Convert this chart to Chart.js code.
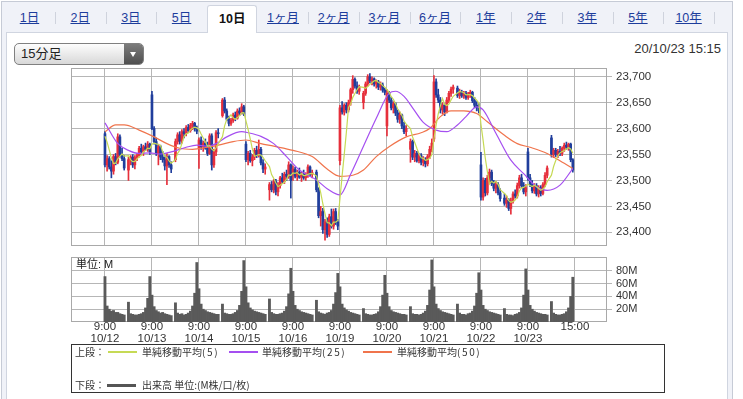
<!DOCTYPE html>
<html>
<head>
<meta charset="utf-8">
<script src="https://cdn.jsdelivr.net/npm/chart.js@4.4.0/dist/chart.umd.min.js"></script>
<style>
  body { margin: 0; width: 743px; height: 399px; overflow: hidden; background: #fff; position: relative;
    font-family: "Liberation Sans", "Noto Sans CJK JP", sans-serif; color: #222; }
  .abs { position: absolute; }
  #frame { left: 1px; top: 1px; width: 732px; height: 420px; box-sizing: border-box; border: 1px solid #c6cbd6; background: #f0f2f8; }
  #panel { left: 6px; top: 32px; width: 722px; height: 400px; box-sizing: border-box; border: 1px solid #d0d5e0; background: #fff; }
  .tab { top: 9px; width: 50px; height: 18px; line-height: 18px; text-align: center; font-size: 12.5px; color: #1d3d9c; text-decoration: underline; white-space: nowrap; }
  .tab.active { top: 5px; height: 28px; line-height: 26px; width: 50px; background: #fff; border: 1px solid #d0d5e0; border-bottom: none; border-radius: 3px 3px 0 0; color: #111; font-weight: bold; text-decoration: none; box-sizing: border-box; }
  .sep { top: 12px; width: 1px; height: 12px; background: #cfd3dd; }
  #select { left: 14px; top: 43px; width: 130px; height: 22px; box-sizing: border-box; border: 1px solid #808080; border-radius: 5px;
    background: linear-gradient(#fdfdfd, #d8d8d8); font-size: 13px; line-height: 20px; }
  #select span { position: absolute; left: 6px; top: 0; }
  #select i { position: absolute; right: 0; top: 0; width: 19px; height: 20px; border-radius: 0 4px 4px 0; background: linear-gradient(#7c7c7c, #4f4f4f); }
  #select i:after { content: ""; position: absolute; left: 6px; top: 8px; border-left: 3.5px solid transparent; border-right: 3.5px solid transparent; border-top: 5px solid #fff; }
  #stamp { right: 22px; top: 40px; font-size: 13px; line-height: 17px; color: #333; }
  #unit { left: 76px; top: 257px; font-size: 11px; line-height: 14px; color: #222; }
  #legend { left: 71px; top: 344px; width: 594px; height: 49px; box-sizing: border-box; border: 1px solid #333;
    font-family: "Noto Sans CJK JP", sans-serif; font-size: 10px; color: #333; }
  #legend div { position: absolute; line-height: 14px; white-space: nowrap; }
  #legend b { font-weight: normal; letter-spacing: 1.6px; }
  #legend .sw { height: 2px; width: 29px; }
  canvas { position: absolute; left: 0; }
</style>
</head>
<body>
<div id="frame" class="abs"></div>
<div id="panel" class="abs"></div>
<div id="tabs"></div>
<div id="select" class="abs"><span>15分足</span><i></i></div>
<div id="stamp" class="abs">20/10/23 15:15</div>
<canvas id="price" width="743" height="208" style="top:52px"></canvas>
<canvas id="vol" width="743" height="108" style="top:240px"></canvas>
<div id="unit" class="abs">単位: M</div>
<div id="legend" class="abs">
  <div style="left:3px;top:0px">上段：</div>
  <div class="sw" style="left:36px;top:6px;background:#c6da55"></div>
  <div style="left:70px;top:0px">単純移動平均<b>(5)</b></div>
  <div class="sw" style="left:157px;top:6px;background:#a54ff0"></div>
  <div style="left:190px;top:0px">単純移動平均<b>(25)</b></div>
  <div class="sw" style="left:291px;top:6px;background:#f0744c"></div>
  <div style="left:325px;top:0px">単純移動平均<b>(50)</b></div>
  <div style="left:3px;top:33px">下段：</div>
  <div class="sw" style="left:35px;top:39px;height:3px;background:#555"></div>
  <div style="left:70px;top:33px">出来高 単位:(M株/口/枚)</div>
</div>

<script>
const tabNames = ["1日", "2日", "3日", "5日", "10日", "1ヶ月", "2ヶ月", "3ヶ月", "6ヶ月", "1年", "2年", "3年", "5年", "10年"];
const activeTab = 4;

const dates = ["10/12", "10/13", "10/14", "10/15", "10/16", "10/19", "10/20", "10/21", "10/22", "10/23"];
const barTimes = ["9:00", "9:15", "9:30", "9:45", "10:00", "10:15", "10:30", "10:45", "11:00", "11:15",
  "12:30", "12:45", "13:00", "13:15", "13:30", "13:45", "14:00", "14:15", "14:30", "14:45", "15:00"];

const priceTicks = [23400, 23450, 23500, 23550, 23600, 23650, 23700];
const volTicks = [20, 40, 60, 80];

// last closes of 10/9, only used for the 5-bar average
const prevCloses = [23598, 23602, 23596, 23600];

const opens = [
  23590,23530,23542,23526,23518,23546,23535,23584,23550,23542, 23520,23540,23545,23530,23544,23548,23562,23555,23565,23560,23570,
  23665,23600,23575,23552,23565,23545,23540,23528,23546,23530, 23540,23575,23588,23576,23594,23590,23602,23596,23606,23610,23600,
  23562,23578,23565,23572,23562,23552,23586,23530,23555,23592, 23625,23655,23634,23618,23610,23616,23626,23620,23634,23630,23642,
  23570,23540,23552,23538,23545,23558,23548,23560,23534,23522, 23482,23492,23482,23498,23478,23490,23505,23498,23512,23508,23530,
  23515,23522,23508,23516,23506,23512,23505,23510,23526,23512, 23516,23482,23432,23440,23405,23420,23396,23430,23412,23440,23420,
  23538,23640,23632,23645,23636,23650,23675,23695,23682,23672, 23650,23668,23686,23700,23692,23696,23686,23690,23680,23684,23674,
  23605,23668,23655,23640,23648,23630,23618,23626,23605,23594, 23560,23575,23545,23552,23538,23548,23535,23540,23532,23546,23560,
  23580,23690,23665,23655,23636,23645,23632,23655,23668,23676, 23678,23664,23670,23663,23668,23660,23666,23670,23654,23645,23640,
  23530,23468,23500,23476,23505,23516,23494,23485,23492,23476, 23466,23456,23462,23446,23460,23474,23470,23490,23505,23490,23478,
  23555,23505,23492,23480,23490,23474,23486,23475,23492,23510, 23582,23550,23558,23550,23556,23552,23562,23568,23564,23570,23540
];
const highs = [
  23594,23548,23546,23538,23550,23552,23590,23588,23562,23548, 23545,23548,23550,23548,23552,23566,23570,23568,23572,23575,23572,
  23672,23604,23582,23570,23568,23556,23548,23552,23548,23536, 23580,23592,23594,23598,23600,23606,23608,23610,23614,23612,23605,
  23582,23584,23576,23580,23574,23590,23590,23560,23596,23600, 23658,23660,23638,23624,23620,23630,23632,23638,23640,23648,23645,
  23575,23556,23558,23550,23562,23566,23578,23564,23540,23532, 23496,23498,23502,23502,23496,23508,23514,23516,23520,23536,23532,
  23528,23526,23520,23524,23516,23520,23515,23530,23528,23520, 23520,23486,23450,23446,23425,23428,23435,23445,23445,23446,23425,
  23645,23652,23648,23650,23655,23678,23702,23698,23690,23684, 23672,23690,23704,23706,23700,23698,23694,23693,23690,23688,23678,
  23675,23672,23660,23652,23650,23636,23632,23628,23612,23606, 23580,23578,23558,23556,23552,23552,23546,23544,23550,23566,23580,
  23702,23696,23676,23660,23650,23648,23660,23672,23680,23684, 23682,23676,23674,23672,23672,23670,23674,23672,23660,23652,23648,
  23554,23505,23504,23510,23522,23520,23500,23498,23496,23484, 23474,23470,23465,23466,23478,23482,23495,23510,23512,23496,23492,
  23562,23512,23500,23494,23494,23490,23490,23496,23515,23528, 23587,23562,23562,23560,23566,23565,23572,23574,23572,23572,23542
];
const lows = [
  23526,23518,23522,23505,23512,23530,23532,23545,23538,23520, 23500,23530,23525,23522,23538,23545,23550,23548,23558,23556,23550,
  23598,23570,23548,23530,23540,23535,23520,23492,23525,23515, 23536,23570,23570,23572,23582,23586,23592,23593,23598,23595,23590,
  23523,23560,23556,23560,23548,23550,23520,23525,23548,23582, 23622,23630,23615,23605,23606,23612,23615,23618,23625,23628,23625,
  23536,23530,23535,23528,23540,23544,23545,23530,23515,23512, 23462,23478,23476,23472,23470,23485,23494,23494,23500,23504,23466,
  23500,23505,23500,23504,23498,23502,23500,23506,23508,23505, 23478,23428,23412,23398,23385,23390,23392,23408,23406,23415,23405,
  23530,23628,23626,23630,23632,23645,23668,23678,23668,23666, 23638,23664,23682,23688,23684,23682,23678,23675,23674,23670,23665,
  23586,23650,23636,23630,23625,23612,23610,23600,23590,23586, 23535,23540,23536,23535,23534,23530,23528,23526,23528,23542,23555,
  23575,23660,23650,23630,23628,23625,23630,23650,23662,23668, 23660,23658,23660,23658,23656,23656,23660,23650,23640,23634,23630,
  23462,23462,23470,23472,23495,23490,23480,23476,23472,23460, 23452,23448,23442,23435,23456,23466,23466,23485,23486,23474,23470,
  23500,23488,23476,23475,23470,23468,23470,23472,23488,23505, 23545,23544,23546,23544,23548,23548,23556,23560,23558,23536,23516
];
const closes = [
  23530,23542,23526,23518,23546,23535,23584,23550,23542,23524, 23540,23545,23530,23544,23548,23562,23555,23565,23560,23570,23555,
  23600,23575,23552,23565,23545,23540,23528,23546,23530,23522, 23575,23588,23576,23594,23590,23602,23596,23606,23610,23600,23595,
  23578,23565,23572,23562,23552,23586,23530,23555,23592,23590, 23655,23634,23618,23610,23616,23626,23620,23634,23630,23642,23628,
  23540,23552,23538,23545,23558,23548,23560,23534,23522,23526, 23492,23482,23498,23478,23490,23505,23498,23512,23508,23530,23500,
  23522,23508,23516,23506,23512,23505,23510,23526,23512,23515, 23482,23432,23440,23405,23420,23396,23430,23412,23440,23420,23412,
  23640,23632,23645,23636,23650,23675,23695,23682,23672,23680, 23668,23686,23700,23692,23696,23686,23690,23680,23684,23674,23670,
  23668,23655,23640,23648,23630,23618,23626,23605,23594,23600, 23575,23545,23552,23538,23548,23535,23540,23532,23546,23560,23572,
  23690,23665,23655,23636,23645,23632,23655,23668,23676,23680, 23664,23670,23663,23668,23660,23666,23670,23654,23645,23640,23635,
  23468,23500,23476,23505,23516,23494,23485,23492,23476,23465, 23456,23462,23446,23460,23474,23470,23490,23505,23490,23478,23486,
  23505,23492,23480,23490,23474,23486,23475,23492,23510,23524, 23550,23558,23550,23556,23552,23562,23568,23564,23570,23540,23520
];
const volumes = [
  71,25,20,17,18,15,15,13,12,11, 31,13,12,11,11,12,13,15,22,37,71,
  42,24,18,16,14,15,13,12,11,10, 30,14,12,13,11,12,14,17,25,45,93,
  52,28,20,18,16,15,14,13,12,12, 28,14,13,12,12,13,15,18,26,48,96,
  55,30,22,19,17,16,15,14,13,12, 36,15,13,12,12,13,14,17,24,44,84,
  48,26,20,18,16,15,14,13,12,11, 34,16,14,13,12,14,15,18,28,46,76,
  55,28,22,19,17,15,14,13,12,11, 21,13,12,11,11,12,13,16,24,42,73,
  45,24,18,16,15,14,13,12,12,11, 24,13,12,12,11,12,14,17,26,50,97,
  55,28,21,18,16,15,14,13,12,11, 28,14,12,12,11,13,14,17,25,45,77,
  50,26,20,18,16,15,14,13,12,11, 21,12,11,11,10,12,13,15,22,42,83,
  50,26,20,17,15,14,13,12,12,11, 32,14,12,11,11,12,13,16,22,40,70
];

// moving averages at these bars
const ma25Bars = [0,6,10,15,20,25,30,36,41,46,50,54,61,64,70,75,81,87,94,99,105,110,115,121,127,130,134,137,142,148,153,157,161,166,169,175,181,187,193,198,203,209];
const ma25 = [23611,23571,23558,23552,23553,23551,23555,23564,23568,23566,23571,23584,23594,23592,23585,23571,23546,23520,23501,23484,23472,23512,23566,23620,23668,23672,23662,23640,23612,23597,23594,23607,23623,23642,23636,23591,23539,23513,23488,23481,23491,23523];
const ma50Bars = [0,5,9,15,22,28,33,39,46,51,57,63,70,75,84,93,99,105,111,115,121,127,135,141,145,150,155,160,166,171,178,184,190,198,205,209];
const ma50 = [23594,23607,23607,23597,23584,23571,23562,23560,23564,23568,23575,23578,23571,23566,23558,23546,23522,23508,23510,23520,23546,23565,23584,23592,23600,23623,23634,23634,23629,23613,23587,23571,23564,23552,23533,23523];

const FONT = '"Liberation Sans", "Noto Sans CJK JP", sans-serif';
const UP = "#e62f3b", DOWN = "#203e9c", GRID = "#b6b6b6";

// tabs
const tabsEl = document.getElementById("tabs");
tabNames.forEach((name, i) => {
  const c = 29.5 + 50.7 * i;
  const t = document.createElement("div");
  t.className = "abs tab" + (i === activeTab ? " active" : "");
  t.style.left = (c - 25) + "px";
  t.textContent = name;
  tabsEl.appendChild(t);
  if (i !== activeTab && i + 1 !== activeTab) {
    const s = document.createElement("div");
    s.className = "abs sep";
    s.style.left = Math.round(c + 25.3) + "px";
    tabsEl.appendChild(s);
  }
});

const perDay = barTimes.length;
const slotOf = (i) => {
  const d = Math.floor(i / perDay), k = i % perDay;
  return d * 22 + (k < 10 ? k : k + 1);
};
const dayTicks = dates.map((_, d) => d * 22).concat([dates.length * 22]);

const allCloses = prevCloses.concat(closes);
const ma5 = closes.map((c, i) => {
  const w = allCloses.slice(i, i + 5);
  return w.reduce((a, b) => a + b, 0) / w.length;
});

const colors = closes.map((c, i) => (c >= opens[i] ? UP : DOWN));

const frame = {
  id: "frame",
  beforeDatasetsDraw(chart) {
    const { ctx, chartArea: a } = chart;
    ctx.save();
    ctx.strokeStyle = "#a9a9a9";
    ctx.lineWidth = 1;
    ctx.strokeRect(a.left + 0.5, a.top + 0.5, a.right - a.left - 1, a.bottom - a.top - 1);
    ctx.restore();
  }
};

const xCommon = {
  type: "linear",
  min: -15.9,
  max: 235,
  offset: false,
  afterBuildTicks: (s) => { s.ticks = dayTicks.map((v) => ({ value: v })); },
  border: { display: false },
  grid: { color: GRID, drawTicks: false, offset: false }
};

new Chart(document.getElementById("price"), {
  type: "bar",
  data: {
    datasets: [
      {
        label: "wick",
        data: closes.map((c, i) => ({ x: slotOf(i), y: [lows[i], highs[i]] })),
        backgroundColor: colors,
        barThickness: 1,
        grouped: false,
        order: 6
      },
      {
        label: "body",
        data: closes.map((c, i) => ({ x: slotOf(i), y: [opens[i], c] })),
        backgroundColor: colors,
        barThickness: 2,
        minBarLength: 1,
        grouped: false,
        order: 5
      },
      {
        type: "line",
        label: "単純移動平均(50)",
        data: ma50Bars.map((b, j) => ({ x: slotOf(b), y: ma50[j] })),
        borderColor: "#f0744c",
        borderWidth: 1.2,
        pointRadius: 0,
        cubicInterpolationMode: "monotone",
        order: 4
      },
      {
        type: "line",
        label: "単純移動平均(25)",
        data: ma25Bars.map((b, j) => ({ x: slotOf(b), y: ma25[j] })),
        borderColor: "#a54ff0",
        borderWidth: 1.2,
        pointRadius: 0,
        cubicInterpolationMode: "monotone",
        order: 3
      },
      {
        type: "line",
        label: "単純移動平均(5)",
        data: ma5.map((v, i) => ({ x: slotOf(i), y: v })),
        borderColor: "#c6da55",
        borderWidth: 1.2,
        pointRadius: 0,
        order: 2
      }
    ]
  },
  options: {
    responsive: false,
    animation: false,
    devicePixelRatio: 1,
    layout: { padding: { left: 71, right: 0, top: 16, bottom: 14 } },
    plugins: { legend: { display: false }, tooltip: { enabled: false } },
    scales: {
      x: Object.assign({}, xCommon, {
        ticks: { display: false },
        afterFit: (s) => { s.height = 0; }
      }),
      y: {
        position: "right",
        min: 23373.6,
        max: 23716.8,
        afterBuildTicks: (s) => { s.ticks = priceTicks.map((v) => ({ value: v })); },
        afterFit: (s) => { s.width = 136; },
        border: { display: false },
        grid: { color: GRID, tickLength: 5 },
        ticks: {
          padding: 4,
          color: "#333",
          font: { family: FONT, size: 11.5 },
          callback: (v) => v.toLocaleString("en-US")
        }
      }
    }
  },
  plugins: [frame]
});

new Chart(document.getElementById("vol"), {
  type: "bar",
  data: {
    datasets: [{
      label: "出来高",
      data: volumes.map((v, i) => ({ x: slotOf(i), y: v })),
      backgroundColor: "#5a5a5a",
      barThickness: 2.2
    }]
  },
  options: {
    responsive: false,
    animation: false,
    devicePixelRatio: 1,
    layout: { padding: { left: 71, right: 0, top: 17, bottom: 0 } },
    plugins: { legend: { display: false }, tooltip: { enabled: false } },
    scales: {
      x: Object.assign({}, xCommon, {
        afterFit: (s) => { s.height = 26; },
        ticks: {
          autoSkip: false,
          maxRotation: 0,
          padding: -1,
          color: "#333",
          font: { family: FONT, size: 11.5, lineHeight: 1.05 },
          callback: (v) => {
            const d = Math.round(v / 22);
            return d < dates.length ? [barTimes[0], dates[d]] : barTimes[barTimes.length - 1];
          }
        }
      }),
      y: {
        position: "right",
        min: 0,
        max: 101.6,
        afterBuildTicks: (s) => { s.ticks = volTicks.map((v) => ({ value: v })); },
        afterFit: (s) => { s.width = 136; },
        border: { display: false },
        grid: { color: GRID, tickLength: 5 },
        ticks: {
          padding: 4,
          color: "#333",
          font: { family: FONT, size: 11 },
          callback: (v) => v + "M"
        }
      }
    }
  },
  plugins: [frame]
});
</script>
</body>
</html>
